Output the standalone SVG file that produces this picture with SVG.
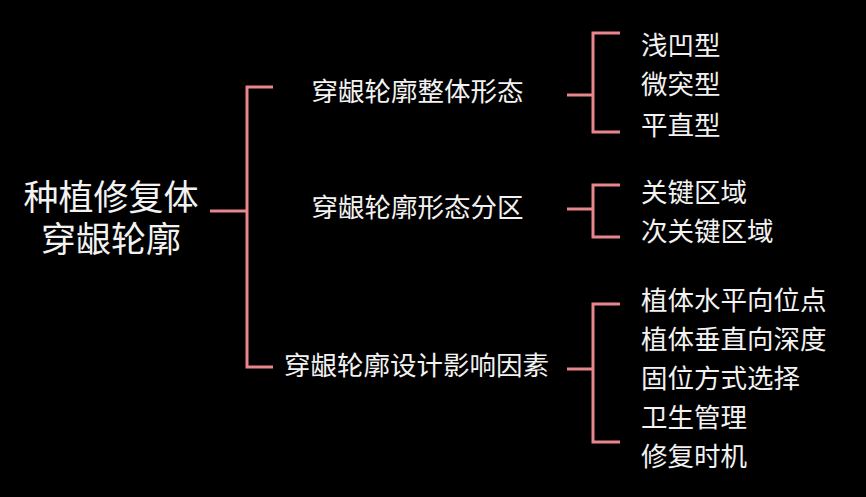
<svg xmlns="http://www.w3.org/2000/svg" width="866" height="497" viewBox="0 0 866 497">
  <style>
    .t { font-family: "Noto Sans CJK SC", "Noto Sans", sans-serif; fill: #f2f2f2; }
    .root { font-size: 35px; text-anchor: middle; }
    .mid { font-size: 26.5px; text-anchor: middle; }
    .leaf { font-size: 26.5px; text-anchor: start; }
    .c { fill: none; stroke: #e8868e; stroke-width: 3; stroke-linecap: butt; stroke-linejoin: miter; }
  </style>
  <rect x="0" y="0" width="866" height="497" fill="#000000"/>
  <g id="connectors">
    <path class="c" d="M210 211 H247 M273 87 H247 V367 H273"/>
    <path class="c" d="M567 95 H593 M620 33 H593 V132 H620"/>
    <path class="c" d="M567 209 H593 M620 185 H593 V237 H620"/>
    <path class="c" d="M567 369 H593 M620 304 H593 V442 H620"/>
  </g>
  <g id="root">
    <text class="t root" x="111" y="210"><tspan x="111" y="210">种植修复体</tspan><tspan x="111" y="252">穿龈轮廓</tspan></text>
  </g>
  <g id="n1"><text class="t mid" x="417.5" y="101">穿龈轮廓整体形态</text></g>
  <g id="n2"><text class="t mid" x="417.5" y="217">穿龈轮廓形态分区</text></g>
  <g id="n3"><text class="t mid" x="416.5" y="374.5">穿龈轮廓设计影响因素</text></g>
  <g id="l1"><text class="t leaf" x="641" y="54.5">浅凹型</text></g>
  <g id="l2"><text class="t leaf" x="641" y="94">微突型</text></g>
  <g id="l3"><text class="t leaf" x="641" y="134.5">平直型</text></g>
  <g id="l4"><text class="t leaf" x="641" y="202">关键区域</text></g>
  <g id="l5"><text class="t leaf" x="641" y="241">次关键区域</text></g>
  <g id="l6"><text class="t leaf" x="641" y="310">植体水平向位点</text></g>
  <g id="l7"><text class="t leaf" x="641" y="349">植体垂直向深度</text></g>
  <g id="l8"><text class="t leaf" x="641" y="388">固位方式选择</text></g>
  <g id="l9"><text class="t leaf" x="641" y="426.5">卫生管理</text></g>
  <g id="l10"><text class="t leaf" x="641" y="465.5">修复时机</text></g>
</svg>
